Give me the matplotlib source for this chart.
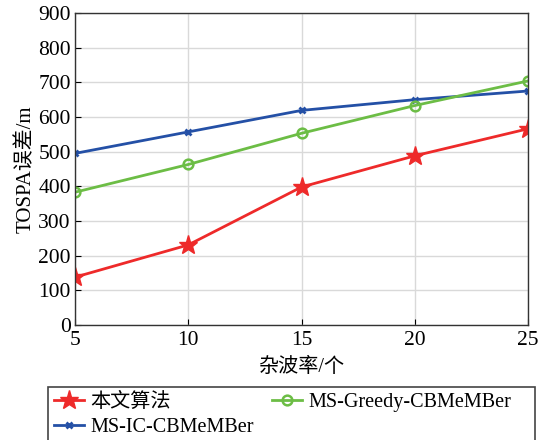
import matplotlib
matplotlib.use("Agg")
import matplotlib.pyplot as plt
from matplotlib.patches import Rectangle

plt.rcParams['font.family'] = ['Liberation Serif', 'Noto Sans CJK SC', 'DejaVu Sans']
plt.rcParams['mathtext.fontset'] = 'stix'

clutter_rate = [5, 10, 15, 20, 25]
ours = [138, 231, 398, 488, 566]
ms_ic = [495, 557, 619, 650, 675]
ms_greedy = [383, 463, 553, 633, 704]
labels = ['本文算法', 'MS-IC-CBMeMBer', 'MS-Greedy-CBMeMBer']

W, H = 542, 440
fig = plt.figure(figsize=(W / 100, H / 100), dpi=100)
ax = fig.add_axes([75/W, 1-325/H, 453/W, 312/H])

l1, = ax.plot(clutter_rate, ours, color='#ee2a2a', lw=2, marker='*', ms=14, label=labels[0])
l2, = ax.plot(clutter_rate, ms_ic, color='#2450a6', lw=2, marker='x', ms=4, mew=2, label=labels[1])
l3, = ax.plot(clutter_rate, ms_greedy, color='#6cbd45', lw=2, marker='o', ms=7, mfc='none', mew=1.8, label=labels[2])

ax.set_xlim(5, 25)
ax.set_ylim(0, 900)
ax.set_xticks(clutter_rate)
ax.set_yticks(range(0, 901, 100))
ax.grid(True, color='#d9d9d9', lw=1)
ax.set_axisbelow(True)
ax.tick_params(direction='in', labelsize=15.5, length=4, top=False, right=False)
ax.tick_params(axis='x', pad=4)
ax.tick_params(axis='y', pad=3)
for s in ax.spines.values():
    s.set_color('#333333')
    s.set_linewidth(1)
ax.set_xlabel('杂波率/个', fontsize=14.5, labelpad=6)
ax.set_ylabel('TOSPA误差/m', fontsize=15, labelpad=2)

# legend entries without their own frame; the box around them is drawn separately
leg = fig.legend(handles=[l1, l2, l3], ncol=2, loc='upper left',
                 bbox_to_anchor=(48/W, 1-387/H),
                 fontsize=14.5, frameon=False,
                 handlelength=1.5, handletextpad=0.3, borderpad=0.3, labelspacing=0.3,
                 columnspacing=0.9, borderaxespad=0)
fig.patches.append(Rectangle((48/W, -0.05), 487/W, 1-387/H + 0.05,
                             transform=fig.transFigure, fill=False,
                             edgecolor='#444444', lw=1.2))

fig.savefig('out.png', dpi=100)
